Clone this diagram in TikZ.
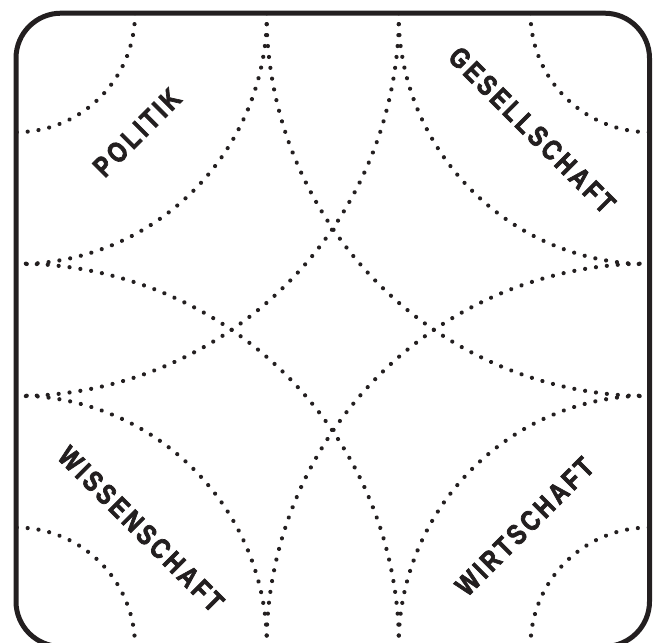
\documentclass[tikz,border=0pt]{standalone}
\usepackage{fontspec}
\usetikzlibrary{decorations.markings}
\newfontfamily\labfont{Liberation Sans Bold}[FakeStretch=0.8,FakeBold=2.5,LetterSpace=12]
\definecolor{ink}{RGB}{35,31,32}
\tikzset{
  frame/.style={draw=ink,line width=5pt,rounded corners=45pt},
  dotline/.style={decoration={markings,
      mark=between positions 0 and 1 step 10.95pt with {\fill[ink] (0,0) circle[radius=2.1pt];}},
    decorate},
  lab/.style={text=ink,inner sep=0pt,font=\labfont\fontsize{28.5}{28.5}\selectfont}
}
\begin{document}
\begin{tikzpicture}[x=1pt,y=1pt]
\useasboundingbox (0,0) rectangle (657,643);
\coordinate (tl) at (16,629.8);
\coordinate (tr) at (649.5,629.8);
\coordinate (bl) at (16,-3.5);
\coordinate (br) at (649.5,-3.5);
% dotted arcs
\foreach \r in {119,251,383}{
  \path[dotline] (tl) ++(\r,0) arc[start angle=0,end angle=-90,radius=\r];
  \path[dotline] (tr) ++(-\r,0) arc[start angle=180,end angle=270,radius=\r];
  \path[dotline] (bl) ++(\r,0) arc[start angle=0,end angle=90,radius=\r];
  \path[dotline] (br) ++(-\r,0) arc[start angle=180,end angle=90,radius=\r];
}
% frame
\draw[frame] (bl) rectangle (tr);
% labels
\node[lab,rotate=45] (politik) at (137,510.5) {POLITIK};
\node[lab,rotate=-45] (gesellschaft) at (532,513) {GESELLSCHAFT};
\node[lab,rotate=-45] (wissenschaft) at (141,114) {WISSENSCHAFT};
\node[lab,rotate=45] (wirtschaft) at (524.5,116.5) {WIRTSCHAFT};
\end{tikzpicture}
\end{document}
